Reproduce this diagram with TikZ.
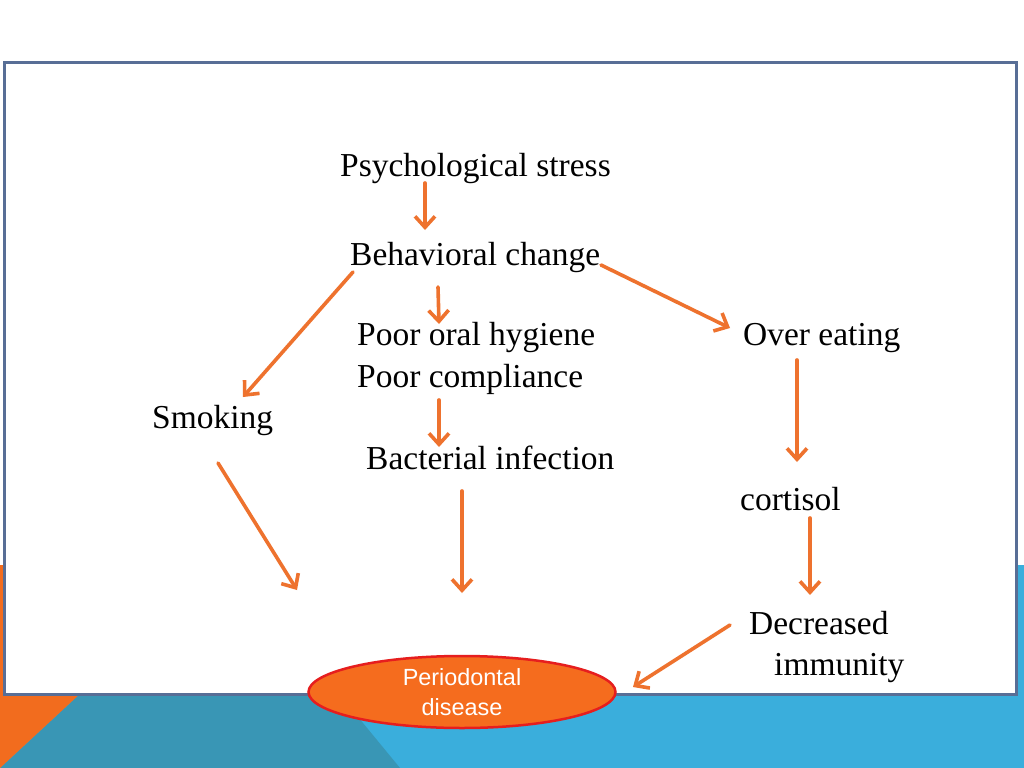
\documentclass[tikz,border=0pt]{standalone}
\usepackage{fontspec}
\setmainfont{Liberation Serif}
\newfontfamily\sansfont{Liberation Sans}
\usepackage{xcolor}
\usetikzlibrary{arrows.meta}
\usetikzlibrary{shapes.geometric}
\definecolor{bgblue}{RGB}{58,174,220}
\definecolor{bgteal}{RGB}{57,150,181}
\definecolor{bgorange}{RGB}{242,108,30}
\definecolor{framecol}{RGB}{88,110,150}
\definecolor{arrowcol}{RGB}{238,114,46}
\definecolor{diseasefill}{RGB}{245,108,30}
\definecolor{diseaseline}{RGB}{230,30,30}

\begin{document}
\begin{tikzpicture}[x=1bp,y=-1bp,
      every node/.style={inner sep=0pt},
      lbl/.style={anchor=base west,font=\fontsize{33.6}{40}\selectfont},
      flow/.style={draw=arrowcol,line width=3.6bp,line cap=round,
        -{Straight Barb[length=11bp,width=20bp]}},
      disease node/.style={ellipse,fill=diseasefill,draw=diseaseline,line width=2.5bp,
        minimum width=307bp,minimum height=72bp,text=white,align=center,
        font=\sansfont\fontsize{23.5}{30}\selectfont}]

      \useasboundingbox (0,0) rectangle (1024,768);
      \fill[white] (0,0) rectangle (1024,768);
      \fill[bgblue] (0,565) rectangle (1024,768);
      \fill[bgteal] (219,565) -- (233,565) -- (400,768) -- (0,768) -- cycle;
      \fill[bgorange] (0,565) -- (219,565) -- (0,768) -- cycle;
      \draw[framecol,line width=3bp,fill=white] (4,63) rectangle (1016,694);

      \node[lbl] (stress) at (340,176) {Psychological stress};
      \node[lbl] (behav) at (350,265) {Behavioral change};
      \node[lbl] (oral) at (357,345) {Poor oral hygiene};
      \node[lbl] (compl) at (357,387) {Poor compliance};
      \node[lbl] (bact) at (366,469) {Bacterial infection};
      \node[lbl] (smoke) at (152,428) {Smoking};
      \node[lbl] (over) at (743,345) {Over eating};
      \node[lbl] (cort) at (740,510) {cortisol};
      \node[lbl] (decr) at (749,634) {Decreased};
      \node[lbl] (immun) at (774,675) {immunity};
      \node[disease node] (disease) at (462,692) {Periodontal\\disease};

      \draw[flow] ([shift={(85,7)}]stress.base west) -- ([shift={(75,-35)}]behav.base west);
      \draw[flow] ([shift={(3,7)}]behav.base west) -- ([shift={(91,-31)}]smoke.base west);
      \draw[flow] ([shift={(251,0)}]behav.base west) -- ([shift={(-13,-17)}]over.base west);
      \draw[flow] ([shift={(88,22)}]behav.base west) -- ([shift={(82,-21)}]oral.base west);
      \draw[flow] ([shift={(82,13)}]compl.base west) -- ([shift={(73,-22)}]bact.base west);
      \draw[flow] ([shift={(66,35)}]smoke.base west) -- ([shift={(-165,-102)}]disease.center);
      \draw[flow] ([shift={(96,22)}]bact.base west) -- ([shift={(0,-99)}]disease.center);
      \draw[flow] ([shift={(54,15)}]over.base west) -- ([shift={(57,-48)}]cort.base west);
      \draw[flow] ([shift={(70,8)}]cort.base west) -- ([shift={(61,-39)}]decr.base west);
      \draw[flow] ([shift={(-19,-9)}]decr.base west) -- ([shift={(171,-5)}]disease.center);
    \end{tikzpicture}
\end{document}
